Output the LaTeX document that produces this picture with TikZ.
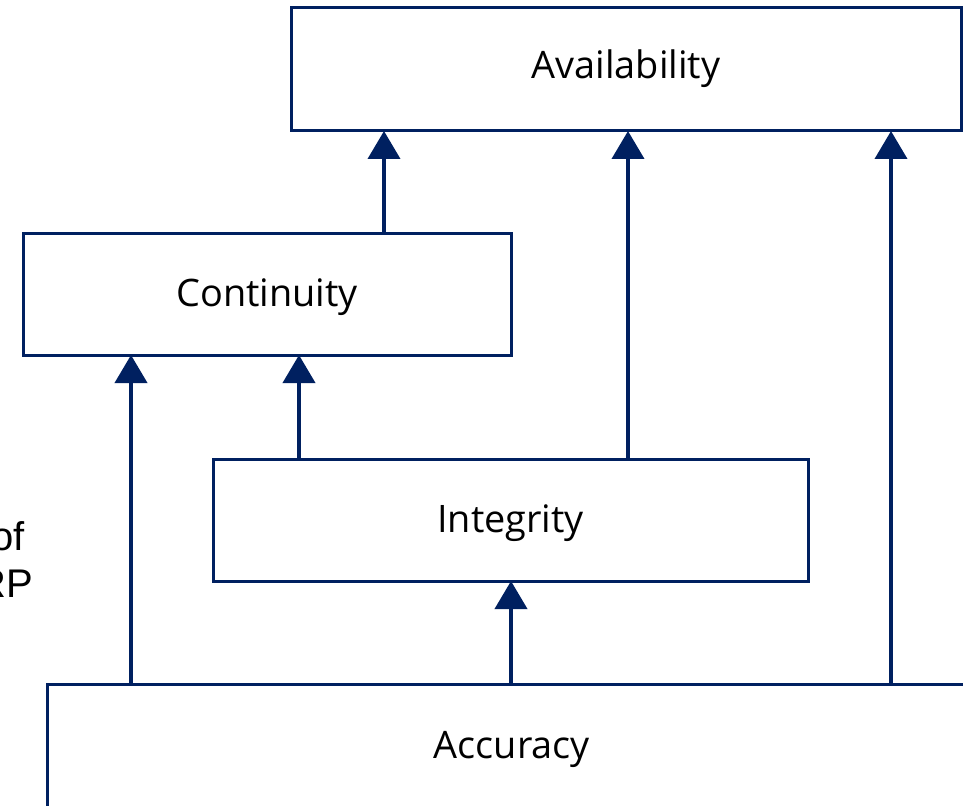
\documentclass[tikz,border=0pt]{standalone}
\usepackage{fontspec}
\setmainfont{Open Sans}
\newfontfamily\arialfont{Liberation Sans}
\usetikzlibrary{arrows.meta}
\definecolor{navy}{HTML}{002060}
\tikzset{
  box/.style={draw=navy, line width=2.25pt, rectangle, inner sep=0pt, outer sep=0pt,
    font=\fontsize{28.4}{34}\selectfont, text=black, fill=white,
    text height=22pt, text depth=3.2pt},
  topbox/.style={box, text height=20pt, text depth=6.5pt},
  arr/.style={draw=navy, line width=3pt, -{Triangle[width=24pt,length=21pt]}},
  sidetext/.style={font=\arialfont\fontsize{30}{36}\selectfont, inner sep=0pt, anchor=base east}
}
\begin{document}
\begin{tikzpicture}[x=0.75pt,y=-0.75pt]
\useasboundingbox (0,0) rectangle (963,806);
\node[topbox, minimum width=670*0.75pt, minimum height=123*0.75pt] (avail) at (626,69.5) {Availability};
\node[box, minimum width=488*0.75pt, minimum height=122*0.75pt] (cont) at (267,294) {Continuity};
\node[box, minimum width=595*0.75pt, minimum height=122*0.75pt] (integ) at (510.5,520) {Integrity};
\node[box, minimum width=930*0.75pt, minimum height=123*0.75pt] (acc) at (512,745.5) {Accuracy};
\node[sidetext] (of) at (25,550) {of};
\node[sidetext] (rp) at (33,597) {RP};
\coordinate (xa) at (384,0);
\coordinate (xb) at (628,0);
\coordinate (xc) at (891,0);
\coordinate (xd) at (131,0);
\coordinate (xe) at (299,0);
\coordinate (xf) at (511,0);
\draw[arr] (cont.north -| xa) -- (avail.south -| xa);
\draw[arr] (integ.north -| xb) -- (avail.south -| xb);
\draw[arr] (acc.north -| xc) -- (avail.south -| xc);
\draw[arr] (acc.north -| xd) -- (cont.south -| xd);
\draw[arr] (integ.north -| xe) -- (cont.south -| xe);
\draw[arr] (acc.north -| xf) -- (integ.south -| xf);
\end{tikzpicture}
\end{document}
